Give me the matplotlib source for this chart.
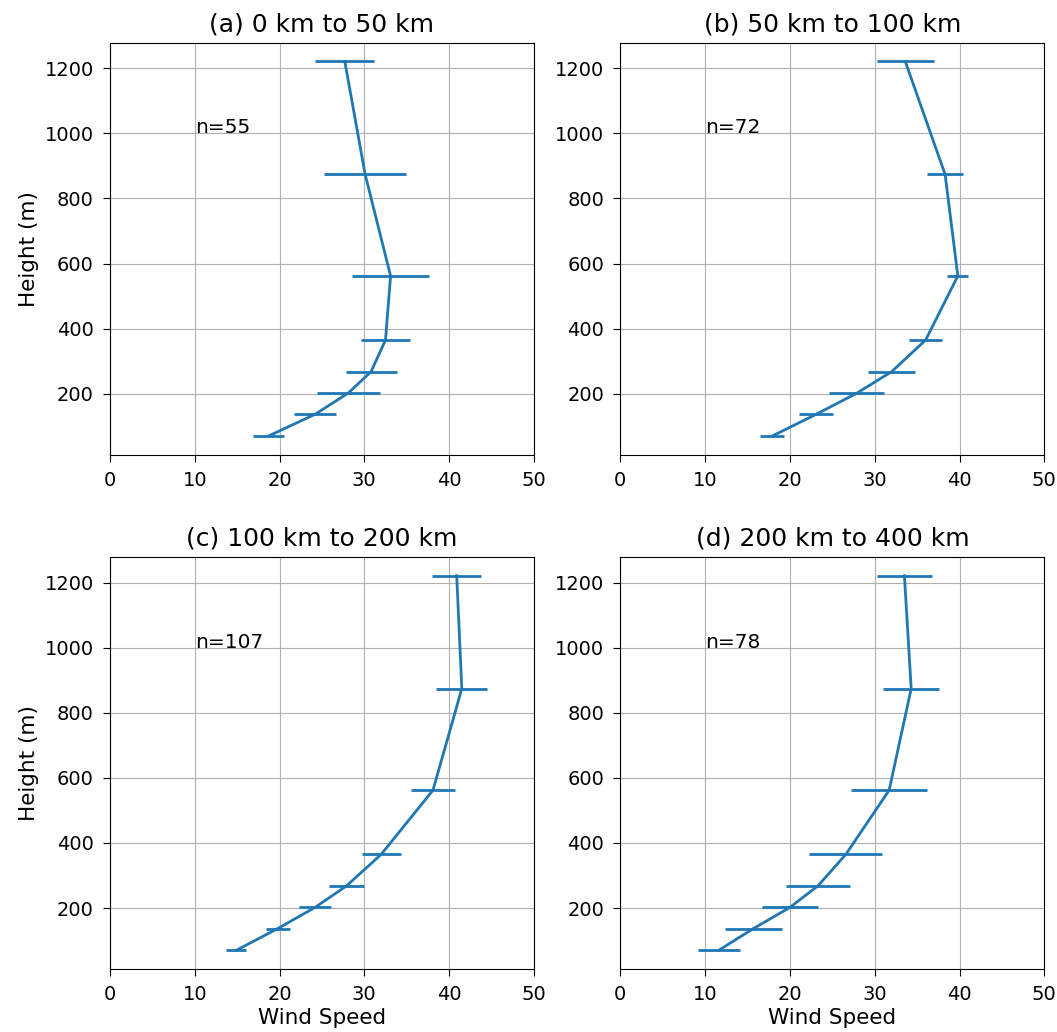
import numpy as np
import matplotlib.pyplot as plt

# heights of the measurement levels (m)
heights = [70, 137, 202, 268, 365, 562, 874, 1221]

titles = ["(a) 0 km to 50 km", "(b) 50 km to 100 km",
          "(c) 100 km to 200 km", "(d) 200 km to 400 km"]
counts = [55, 72, 107, 78]

# mean wind speed per level
speed_a = [18.7, 24.2, 28.1, 30.8, 32.5, 33.1, 30.1, 27.7]
speed_b = [17.9, 23.1, 27.9, 32.0, 36.0, 39.8, 38.3, 33.6]
speed_c = [14.9, 19.8, 24.2, 27.9, 32.0, 38.1, 41.5, 40.9]
speed_d = [11.6, 15.7, 20.0, 23.3, 26.6, 31.7, 34.3, 33.5]

# half width of the error bars
err_a = [1.8, 2.5, 3.7, 3.0, 2.85, 4.5, 4.8, 3.5]
err_b = [1.4, 2.0, 3.25, 2.75, 1.9, 1.25, 2.15, 3.35]
err_c = [1.2, 1.4, 1.85, 2.1, 2.3, 2.6, 3.0, 2.9]
err_d = [2.5, 3.4, 3.3, 3.8, 4.3, 4.45, 3.3, 3.2]

speeds = [speed_a, speed_b, speed_c, speed_d]
errs = [err_a, err_b, err_c, err_d]

fig, axes = plt.subplots(2, 2, figsize=(10.57, 10.32), dpi=100)
fig.subplots_adjust(left=0.104, right=0.988, top=0.9586, bottom=0.061,
                    wspace=0.204, hspace=0.248)

for i, ax in enumerate(axes.flat):
    ax.errorbar(speeds[i], heights, xerr=errs[i], color='#1f77b4',
                linewidth=2.0, elinewidth=2.0)
    ax.set_xlim(0, 50)
    ax.set_xticks([0, 10, 20, 30, 40, 50])
    ax.set_yticks([200, 400, 600, 800, 1000, 1200])
    ax.grid(True)
    ax.set_title(titles[i], fontsize=18, pad=8)
    ax.text(10, 1000, "n=%d" % counts[i], fontsize=14.5)
    ax.tick_params(labelsize=14, length=5, pad=6.5)
    if i % 2 == 0:
        ax.set_ylabel("Height (m)", fontsize=15.5)
    if i >= 2:
        ax.set_xlabel("Wind Speed", fontsize=15.5, labelpad=3)

fig.savefig("out.png")
